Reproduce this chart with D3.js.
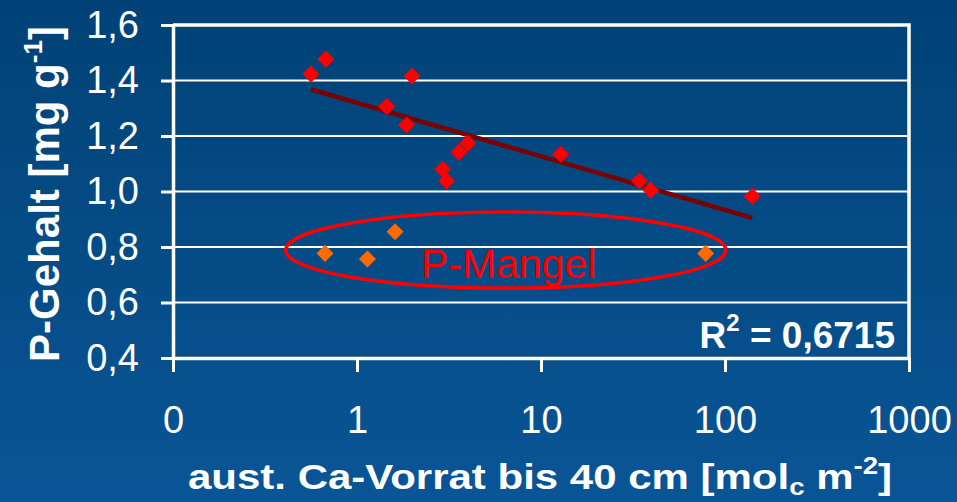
<!DOCTYPE html>
<html>
<head>
<meta charset="utf-8">
<script src="https://cdn.jsdelivr.net/npm/d3@7/dist/d3.min.js"></script>
<style>
  html, body { margin: 0; padding: 0; background: #03487f; }
  svg { display: block; }
  text { font-family: "Liberation Sans", Arial, Helvetica, sans-serif; }
</style>
</head>
<body>
<svg id="chart" width="957" height="502"></svg>
<script>
// Exchangeable Ca stock (x, log scale) vs. P content (y)
const caStock   = [0.562, 0.678, 1.99, 1.45, 1.86, 4.0, 3.58, 2.92, 3.07, 12.8, 34.2, 39.4, 140.6];
const pContent  = [1.423, 1.477, 1.416, 1.306, 1.240, 1.174, 1.141, 1.080, 1.038, 1.134, 1.039, 1.005, 0.983];

// P-deficient sites
const caStockLow  = [0.670, 1.14, 1.61, 78.5];
const pContentLow = [0.777, 0.757, 0.855, 0.777];

const xTicks      = [0.1, 1, 10, 100, 1000];
const xTickLabels = ["0", "1", "10", "100", "1000"];
const yTicks      = [0.4, 0.6, 0.8, 1.0, 1.2, 1.4, 1.6];

// Outline around the P-deficient group (data coordinates)
const deficitX = [0.41, 101];
const deficitY = [0.652, 0.926];
const deficitLabel = "P-Mangel";
const r2Label = "0,6715";

const W = 957, H = 502;
const plot = { left: 173, right: 909, top: 25, bottom: 358 };

const svg = d3.select("#chart");

// background
const defs = svg.append("defs");
const grad = defs.append("linearGradient").attr("id", "bg").attr("x1", 0).attr("y1", 0).attr("x2", 0).attr("y2", 1);
grad.append("stop").attr("offset", "0%").attr("stop-color", "#004276");
grad.append("stop").attr("offset", "100%").attr("stop-color", "#0a5596");
svg.append("rect").attr("width", W).attr("height", H).attr("fill", "url(#bg)");

const x = d3.scaleLog().domain([0.1, 1000]).range([plot.left, plot.right]);
const y = d3.scaleLinear().domain([0.4, 1.6]).range([plot.bottom, plot.top]);

// horizontal gridlines
svg.append("g").selectAll("line").data(yTicks).join("line")
  .attr("x1", plot.left).attr("x2", plot.right)
  .attr("y1", d => y(d)).attr("y2", d => y(d))
  .attr("stroke", "#ffffff").attr("stroke-width", 2.2);

// top and right frame
svg.append("path")
  .attr("d", `M${plot.left},${plot.top}H${plot.right}V${plot.bottom}`)
  .attr("fill", "none").attr("stroke", "#ffffff").attr("stroke-width", 3.5);

const fmtComma = d => d3.format(".1f")(d).replace(".", ",");

// y axis
const yAxis = svg.append("g").attr("transform", `translate(${plot.left},0)`)
  .call(d3.axisLeft(y).tickValues(yTicks).tickFormat(fmtComma).tickSize(12).tickSizeOuter(0).tickPadding(22));
yAxis.select(".domain").attr("stroke", "#fff").attr("stroke-width", 3.5);
yAxis.selectAll(".tick line").attr("stroke", "#fff").attr("stroke-width", 3);
yAxis.selectAll(".tick text").attr("fill", "#fff").attr("font-size", 38)
  .attr("font-family", "Liberation Sans, Arial, sans-serif");

// x axis
const xAxis = svg.append("g").attr("transform", `translate(0,${plot.bottom})`)
  .call(d3.axisBottom(x).tickValues(xTicks).tickFormat((d, i) => xTickLabels[i]).tickSize(14).tickSizeOuter(0).tickPadding(34));
xAxis.select(".domain").attr("stroke", "#fff").attr("stroke-width", 3.5);
xAxis.selectAll(".tick line").attr("stroke", "#fff").attr("stroke-width", 3);
xAxis.selectAll(".tick text").attr("fill", "#fff").attr("font-size", 38)
  .attr("font-family", "Liberation Sans, Arial, sans-serif");

// logarithmic trend line fitted to the main group
const lx = caStock.map(Math.log10);
const mx = d3.mean(lx), my = d3.mean(pContent);
const sxy = d3.sum(lx, (v, i) => (v - mx) * (pContent[i] - my));
const sxx = d3.sum(lx, v => (v - mx) ** 2);
const slope = sxy / sxx, icpt = my - slope * mx;
const xMin = d3.min(caStock), xMax = d3.max(caStock);
const trend = [xMin, xMax].map(v => [x(v), y(icpt + slope * Math.log10(v))]);
svg.append("path").attr("d", d3.line()(trend))
  .attr("stroke", "#7a0000").attr("stroke-width", 4.5).attr("fill", "none");

// diamond markers
const diamond = d3.symbol().type(d3.symbolDiamond2).size(185);
svg.append("g").selectAll("path").data(caStock.map((v, i) => [v, pContent[i]])).join("path")
  .attr("d", diamond)
  .attr("transform", d => `translate(${x(d[0])},${y(d[1])})`)
  .attr("fill", "#ff0000");

svg.append("g").selectAll("path").data(caStockLow.map((v, i) => [v, pContentLow[i]])).join("path")
  .attr("d", diamond)
  .attr("transform", d => `translate(${x(d[0])},${y(d[1])})`)
  .attr("fill", "#ff6a00");

// P-deficit outline
const ex0 = x(deficitX[0]), ex1 = x(deficitX[1]);
const ey0 = y(deficitY[1]), ey1 = y(deficitY[0]);
const ecx = (ex0 + ex1) / 2, ecy = (ey0 + ey1) / 2;
svg.append("ellipse")
  .attr("cx", ecx).attr("cy", ecy)
  .attr("rx", (ex1 - ex0) / 2).attr("ry", (ey1 - ey0) / 2)
  .attr("fill", "none").attr("stroke", "#ff0000").attr("stroke-width", 3.5);
svg.append("text")
  .attr("x", ecx + 3).attr("y", ecy + 28)
  .attr("text-anchor", "middle").attr("font-size", 41).attr("fill", "#ff0000")
  .text(deficitLabel);

// R² annotation
const r2 = svg.append("text")
  .attr("x", plot.right - 14).attr("y", plot.bottom - 10)
  .attr("text-anchor", "end").attr("font-size", 37).attr("font-weight", "bold").attr("fill", "#fff");
r2.append("tspan").text("R");
r2.append("tspan").attr("font-size", 24).attr("dy", -17).text("2");
r2.append("tspan").attr("dy", 17).text(" = " + r2Label);

// axis titles
const xt = svg.append("g").attr("transform", "translate(540,489) scale(1.2,1)")
  .append("text").attr("text-anchor", "middle").attr("font-size", 35)
  .attr("font-weight", "bold").attr("fill", "#fff");
xt.append("tspan").text("aust. Ca-Vorrat bis 40 cm [mol");
xt.append("tspan").attr("font-size", 23).attr("dy", 6).text("c");
xt.append("tspan").attr("dy", -6).text(" m");
xt.append("tspan").attr("font-size", 23).attr("dy", -15).text("-2");
xt.append("tspan").attr("dy", 15).text("]");

const yt = svg.append("text")
  .attr("transform", "translate(59,194) rotate(-90)")
  .attr("text-anchor", "middle").attr("font-size", 42)
  .attr("font-weight", "bold").attr("fill", "#fff");
yt.append("tspan").text("P-Gehalt [mg g");
yt.append("tspan").attr("font-size", 26).attr("dy", -17).text("-1");
yt.append("tspan").attr("dy", 17).text("]");
</script>
</body>
</html>
